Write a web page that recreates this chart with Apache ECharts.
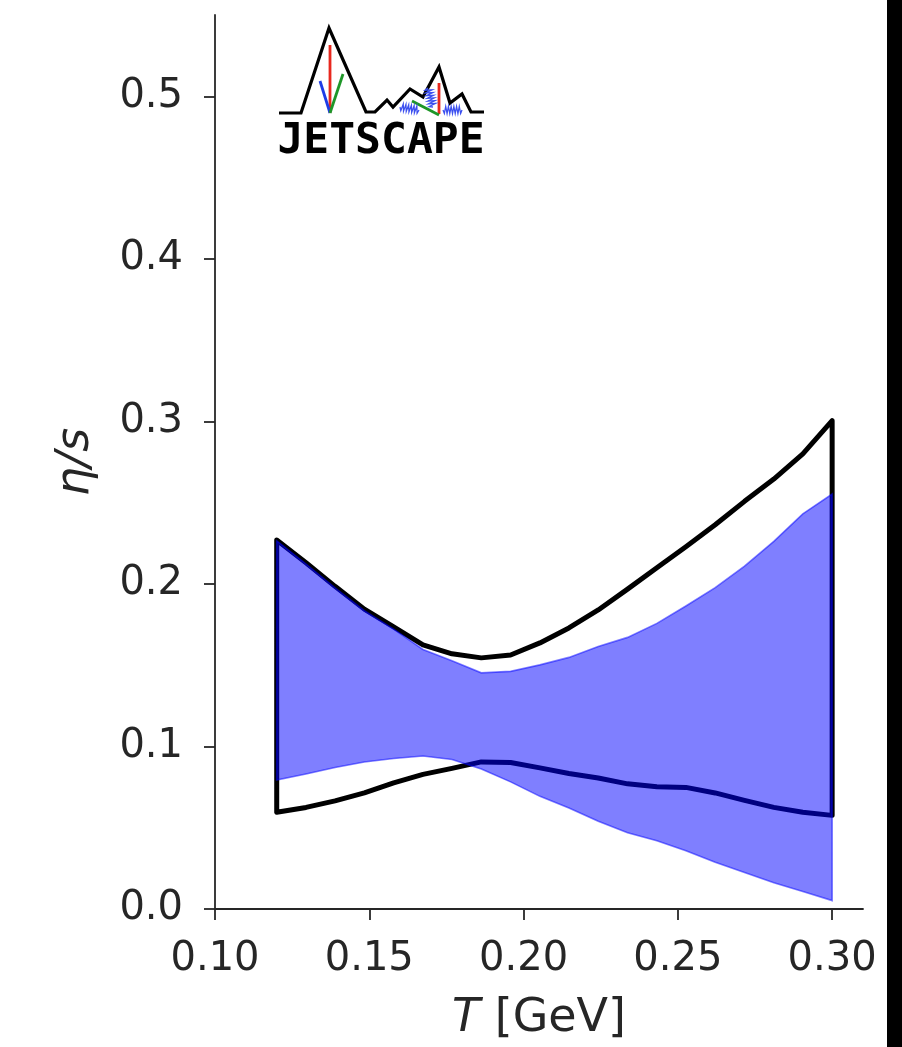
<!DOCTYPE html>
<html>
<head>
<meta charset="utf-8">
<script src="https://cdn.jsdelivr.net/npm/echarts@6/dist/echarts.min.js"></script>
<style>
  html, body { margin: 0; padding: 0; background: #ffffff; }
  #chart { width: 902px; height: 1047px; }
</style>
</head>
<body>
<div id="chart"></div>
<script>
// Temperature grid [GeV]
const temps = [0.1200, 0.1295, 0.1389, 0.1484, 0.1579, 0.1674, 0.1768, 0.1863, 0.1958, 0.2053,
               0.2147, 0.2242, 0.2337, 0.2432, 0.2526, 0.2621, 0.2716, 0.2811, 0.2905, 0.3000];

// Black outlined band: upper / lower edge of eta/s
const outlineUpper = [0.2270, 0.2130, 0.1985, 0.1845, 0.1735, 0.1625, 0.1570, 0.1545, 0.1563, 0.1637,
                      0.1729, 0.1840, 0.1968, 0.2100, 0.2229, 0.2364, 0.2508, 0.2645, 0.2800, 0.3004];
const outlineLower = [0.0595, 0.0625, 0.0665, 0.0714, 0.0776, 0.0828, 0.0865, 0.0905, 0.0901, 0.0868,
                      0.0834, 0.0806, 0.0770, 0.0752, 0.0748, 0.0714, 0.0668, 0.0625, 0.0595, 0.0576];

// Blue filled band: upper / lower edge of eta/s
const bandUpper = [0.2265, 0.2122, 0.1975, 0.1835, 0.1722, 0.1597, 0.1527, 0.1453, 0.1462, 0.1502,
                   0.1548, 0.1615, 0.1671, 0.1757, 0.1864, 0.1977, 0.2109, 0.2262, 0.2431, 0.2553];
const bandLower = [0.0793, 0.0831, 0.0871, 0.0904, 0.0926, 0.0941, 0.0920, 0.0861, 0.0782, 0.0693,
                   0.0622, 0.0540, 0.0469, 0.0420, 0.0359, 0.0288, 0.0224, 0.0162, 0.0107, 0.0052];

// Axis ticks
const xTicks = [0.10, 0.15, 0.20, 0.25, 0.30];
const yTicks = [0.0, 0.1, 0.2, 0.3, 0.4, 0.5];

const INK = '#262626';
const FONT = 'DejaVu Sans';
const TICK_SIZE = 40;
const LABEL_SIZE = 46;

// Closed outline: upper edge left->right, then lower edge right->left
function closedPath(upper, lower) {
  const pts = temps.map((t, i) => [t, upper[i]]);
  for (let i = temps.length - 1; i >= 0; i--) pts.push([temps[i], lower[i]]);
  return pts;
}

function polygonSeries(upper, lower, style, z) {
  const path = closedPath(upper, lower);
  return {
    type: 'custom',
    coordinateSystem: 'cartesian2d',
    z: z,
    silent: true,
    data: path,
    renderItem: function (params, api) {
      if (params.dataIndex !== 0) return null;
      return {
        type: 'polygon',
        shape: { points: path.map(p => api.coord(p)) },
        style: style
      };
    }
  };
}

// Small coil drawn as a zigzag between two points
function coil(x0, y0, x1, y1, turns, amp) {
  const pts = [];
  const dx = x1 - x0, dy = y1 - y0;
  const len = Math.hypot(dx, dy);
  const nx = -dy / len, ny = dx / len;
  const steps = turns * 2;
  for (let k = 0; k <= steps; k++) {
    const f = k / steps;
    const s = (k === 0 || k === steps) ? 0 : (k % 2 ? amp : -amp);
    pts.push([x0 + dx * f + nx * s, y0 + dy * f + ny * s]);
  }
  return pts;
}

const logo = [
  { type: 'polyline', shape: { points: [[279, 113], [301, 113], [329, 28], [366, 112], [375, 112], [387, 100], [393, 107],
      [410, 89], [423, 97], [439, 67], [450, 103], [462, 94], [471, 112], [484, 112]] },
    style: { stroke: '#000', lineWidth: 3.2, fill: null, lineJoin: 'miter' } },
  { type: 'line', shape: { x1: 330, y1: 45, x2: 330, y2: 113 }, style: { stroke: '#e8281e', lineWidth: 2.8 } },
  { type: 'line', shape: { x1: 320, y1: 81, x2: 330, y2: 113 }, style: { stroke: '#1e3ce6', lineWidth: 2.8 } },
  { type: 'line', shape: { x1: 343, y1: 74, x2: 330, y2: 113 }, style: { stroke: '#1e9628', lineWidth: 2.8 } },
  { type: 'line', shape: { x1: 439, y1: 83, x2: 439, y2: 114 }, style: { stroke: '#e8281e', lineWidth: 2.8 } },
  { type: 'line', shape: { x1: 412, y1: 101, x2: 439, y2: 115 }, style: { stroke: '#1e9628', lineWidth: 2.8 } },
  { type: 'polyline', shape: { points: coil(428, 88, 433, 107, 7, 3.5) }, style: { stroke: '#3c50f0', lineWidth: 1.3, fill: null } },
  { type: 'polyline', shape: { points: coil(400, 107, 419, 110, 7, 3.5) }, style: { stroke: '#3c50f0', lineWidth: 1.3, fill: null } },
  { type: 'polyline', shape: { points: coil(443, 110, 462, 110, 7, 3.5) }, style: { stroke: '#3c50f0', lineWidth: 1.3, fill: null } },
  { type: 'text', x: 381, y: 142,
    style: { text: 'JETSCAPE', fontFamily: 'DejaVu Sans Mono', fontWeight: 'bold', fontSize: 43,
             fill: '#000', align: 'center', verticalAlign: 'middle' } },
  // dark strip along the right edge
  { type: 'rect', shape: { x: 887, y: 0, width: 15, height: 1047 }, style: { fill: '#000' } }
];

const chart = echarts.init(document.getElementById('chart'), null, { renderer: 'canvas' });

chart.setOption({
  animation: false,
  backgroundColor: '#ffffff',
  grid: { left: 215, top: 15, right: 39, bottom: 135, containLabel: false },
  xAxis: {
    type: 'value',
    min: 0.10,
    max: 0.31,
    interval: 0.05,
    name: '{i|T} [GeV]',
    nameLocation: 'middle',
    nameGap: 87,
    nameTextStyle: {
      color: INK, fontFamily: FONT, fontSize: LABEL_SIZE,
      rich: { i: { fontStyle: 'italic', fontFamily: FONT, fontSize: LABEL_SIZE, color: INK } }
    },
    axisLine: { show: true, lineStyle: { color: INK, width: 1.8 } },
    axisTick: { show: true, length: 11, lineStyle: { color: INK, width: 1.8 }, customValues: xTicks },
    axisLabel: { color: INK, fontFamily: FONT, fontSize: TICK_SIZE, margin: 31, customValues: xTicks,
                 formatter: v => v.toFixed(2) },
    splitLine: { show: false }
  },
  yAxis: {
    type: 'value',
    min: 0,
    max: 0.55,
    interval: 0.1,
    name: 'η/s',
    nameLocation: 'middle',
    nameGap: 116,
    nameRotate: 90,
    nameTextStyle: { color: INK, fontFamily: FONT, fontSize: LABEL_SIZE, fontStyle: 'italic' },
    axisLine: { show: true, lineStyle: { color: INK, width: 1.8 } },
    axisTick: { show: true, length: 11, lineStyle: { color: INK, width: 1.8 }, customValues: yTicks },
    axisLabel: { color: INK, fontFamily: FONT, fontSize: TICK_SIZE, margin: 32, customValues: yTicks,
                 formatter: v => v.toFixed(1) },
    splitLine: { show: false }
  },
  series: [
    polygonSeries(outlineUpper, outlineLower,
      { fill: null, stroke: '#000000', lineWidth: 5, lineJoin: 'round' }, 2),
    polygonSeries(bandUpper, bandLower,
      { fill: 'rgba(0,0,255,0.5)', stroke: 'rgba(0,0,255,0.5)', lineWidth: 1.6, lineJoin: 'miter' }, 3)
  ],
  graphic: logo
});
</script>
</body>
</html>
